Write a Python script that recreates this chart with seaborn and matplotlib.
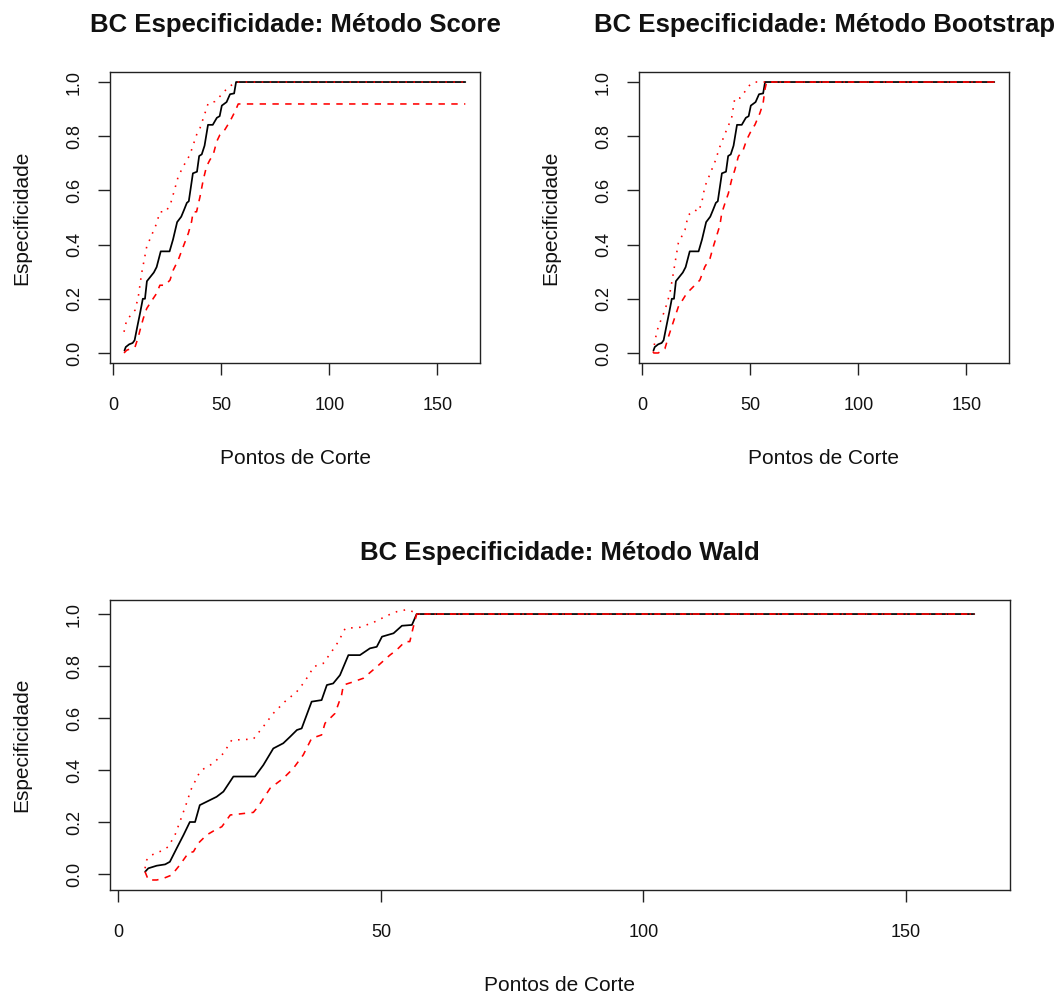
import numpy as np
import matplotlib
matplotlib.use("Agg")
import matplotlib.pyplot as plt
import seaborn as sns

# Estimated specificity along the cut points (common to all three panels)
corte_esp = [5.1, 5.7, 7.3, 8.9, 9.8, 11.1, 12.4, 13.6, 14.6, 15.5, 16.8, 18.7, 20.0,
             21.9, 26.0, 27.6, 29.5, 31.4, 32.7, 34.0, 34.9, 36.8, 38.7, 39.7, 40.9,
             42.2, 43.8, 46.0, 47.9, 49.2, 50.2, 52.4, 54.0, 55.9, 56.8, 163.0]
especificidade = [0.009, 0.022, 0.032, 0.037, 0.047, 0.099, 0.15, 0.20, 0.20, 0.265, 0.278,
                  0.297, 0.317, 0.375, 0.375, 0.419, 0.483, 0.503, 0.528, 0.554, 0.56,
                  0.663, 0.669, 0.727, 0.733, 0.765, 0.842, 0.842, 0.868, 0.874, 0.913,
                  0.926, 0.955, 0.958, 1.0, 1.0]

# Score (Wilson) interval
corte_score_sup = [4.9, 6.1, 10.0, 11.5, 13.05, 15.4, 17.7, 20.0, 21.5, 24.3, 26.5, 28.5,
                   30.0, 32.3, 35.4, 38.5, 40.1, 42.4, 43.9, 47.0, 49.3, 53.2, 57.0, 163.0]
score_sup = [0.078, 0.121, 0.158, 0.207, 0.294, 0.392, 0.435, 0.478, 0.521, 0.521, 0.552,
             0.608, 0.651, 0.688, 0.731, 0.805, 0.83, 0.885, 0.922, 0.928, 0.947, 0.981,
             1.0, 1.0]
corte_score_inf = [4.9, 6.1, 10.0, 11.5, 12.3, 13.8, 15.4, 16.9, 20.0, 21.5, 23.9, 26.2,
                   27.7, 30.0, 32.3, 34.7, 36.2, 36.9, 38.5, 40.1, 41.6, 43.1, 44.7, 46.2,
                   47.8, 49.3, 51.6, 53.9, 56.3, 57.8, 163.0]
score_inf = [0.0, 0.01, 0.022, 0.059, 0.084, 0.127, 0.164, 0.183, 0.22, 0.25, 0.25, 0.269,
             0.306, 0.343, 0.392, 0.442, 0.485, 0.521, 0.521, 0.577, 0.639, 0.688, 0.713,
             0.731, 0.78, 0.805, 0.824, 0.854, 0.891, 0.919, 0.919]

# Bootstrap percentile interval
corte_boot_sup = [5.0, 5.8, 7.3, 10.4, 12.7, 14.3, 16.6, 19.7, 21.2, 24.3, 25.8, 27.4, 28.9,
                  30.5, 33.6, 35.9, 39.0, 41.3, 42.8, 45.2, 47.5, 49.8, 52.1, 163.0]
boot_sup = [0.0, 0.047, 0.096, 0.158, 0.22, 0.294, 0.405, 0.454, 0.509, 0.528, 0.521, 0.552,
            0.614, 0.645, 0.706, 0.762, 0.824, 0.867, 0.941, 0.941, 0.965, 0.99, 1.0, 1.0]
corte_boot_inf = [5.0, 7.3, 10.4, 12.0, 15.05, 16.6, 20.5, 23.5, 26.6, 28.9, 31.3, 32.8,
                  35.9, 36.7, 38.2, 39.8, 41.3, 42.8, 44.4, 46.7, 48.3, 50.6, 52.1, 54.4,
                  55.9, 56.7, 57.5, 163.0]
boot_inf = [0.0, 0.0, 0.016, 0.059, 0.133, 0.17, 0.22, 0.244, 0.269, 0.318, 0.349, 0.392,
            0.472, 0.515, 0.552, 0.589, 0.639, 0.676, 0.725, 0.75, 0.787, 0.824, 0.842,
            0.885, 0.922, 0.971, 1.0, 1.0]

# Wald interval
corte_wald_sup = [5.07, 5.39, 6.34, 8.55, 9.5, 10.78, 12.05, 13.3, 13.64, 15.2, 15.86, 18.08,
                  19.99, 21.58, 25.7, 27.6, 29.5, 31.7, 33.96, 35.2, 36.5, 37.1, 39.0, 40.6,
                  41.9, 43.2, 46.0, 48.6, 51.4, 53.0, 54.9, 56.1, 56.8, 163.0]
wald_sup = [0.022, 0.054, 0.073, 0.092, 0.105, 0.15, 0.22, 0.291, 0.317, 0.381, 0.40, 0.426,
            0.464, 0.515, 0.519, 0.567, 0.618, 0.663, 0.701, 0.733, 0.772, 0.797, 0.81,
            0.855, 0.894, 0.945, 0.949, 0.968, 0.996, 1.009, 1.017, 1.009, 1.0, 1.0]
corte_wald_inf = [5.07, 5.7, 7.3, 8.55, 10.15, 11.7, 13.3, 14.3, 15.2, 16.8, 18.4, 19.7,
                  21.3, 25.7, 26.6, 28.9, 31.4, 33.3, 35.2, 36.8, 38.7, 39.35, 41.26, 42.5,
                  42.85, 44.4, 46.65, 49.2, 51.7, 53.0, 54.6, 55.5, 56.1, 56.8, 163.0]
wald_inf = [0.009, -0.023, -0.023, -0.017, -0.004, 0.035, 0.08, 0.086, 0.118, 0.15, 0.169,
            0.182, 0.227, 0.237, 0.259, 0.33, 0.368, 0.406, 0.458, 0.522, 0.535, 0.58, 0.618,
            0.688, 0.727, 0.737, 0.753, 0.797, 0.842, 0.862, 0.894, 0.894, 0.945, 1.0, 1.0]

titulos = ["BC Especificidade: Método Score",
           "BC Especificidade: Método Bootstrap",
           "BC Especificidade: Método Wald"]
rotulo_x = "Pontos de Corte"
rotulo_y = "Especificidade"
ticks_x = [0, 50, 100, 150]
ticks_y = [0.0, 0.2, 0.4, 0.6, 0.8, 1.0]

sns.set_theme(style="white")
plt.rcParams["font.family"] = ["Liberation Sans", "DejaVu Sans"]

W, H = 1062, 996
fig = plt.figure(figsize=(W / 100, H / 100), dpi=100)
fig.patch.set_facecolor("white")


def painel(box, titulo, sup, inf, ylim):
    x0, y0, x1, y1 = box
    ax = fig.add_axes([x0 / W, 1 - y1 / H, (x1 - x0) / W, (y1 - y0) / H])
    sns.lineplot(x=corte_esp, y=especificidade, ax=ax, color="black", lw=1.25,
                 estimator=None, sort=False)
    sns.lineplot(x=inf[0], y=inf[1], ax=ax, color="#FF0000", lw=1.15,
                 estimator=None, sort=False, linestyle=(0, (4, 4)))
    sns.lineplot(x=sup[0], y=sup[1], ax=ax, color="#FF0000", lw=1.15,
                 estimator=None, sort=False, linestyle=(0, (1, 4)))
    ax.set_xlim(-1.6, 169.8)
    ax.set_ylim(*ylim)
    ax.set_xticks(ticks_x)
    ax.set_xticklabels([str(t) for t in ticks_x])
    ax.set_yticks(ticks_y)
    ax.set_yticklabels([f"{t:.1f}" for t in ticks_y])
    for s in ax.spines.values():
        s.set_color("#222222")
        s.set_linewidth(1.0)
    ax.tick_params(axis="both", which="major", direction="out", length=8.5, width=1.0,
                   color="#222222", labelsize=13, labelcolor="#111111",
                   bottom=True, left=True, top=False, right=False)
    ax.tick_params(axis="x", pad=16)
    ax.tick_params(axis="y", pad=11, labelrotation=90)
    for lab in ax.get_yticklabels():
        lab.set_va("center")
    ax.set_xlabel(rotulo_x, fontsize=15, color="#111111", labelpad=25)
    ax.set_ylabel(rotulo_y, fontsize=15, color="#111111", labelpad=25)
    ax.set_title(titulo, fontsize=18.5, fontweight="bold", color="#111111", pad=29)
    ax.grid(False)
    return ax


painel((110, 72, 480, 363), titulos[0],
       (corte_score_sup, score_sup), (corte_score_inf, score_inf), (-0.037, 1.037))
painel((639, 72, 1009, 363), titulos[1],
       (corte_boot_sup, boot_sup), (corte_boot_inf, boot_inf), (-0.037, 1.037))
painel((110, 600, 1010, 890), titulos[2],
       (corte_wald_sup, wald_sup), (corte_wald_inf, wald_inf), (-0.0615, 1.054))

fig.savefig("out.png", dpi=100, facecolor="white")
